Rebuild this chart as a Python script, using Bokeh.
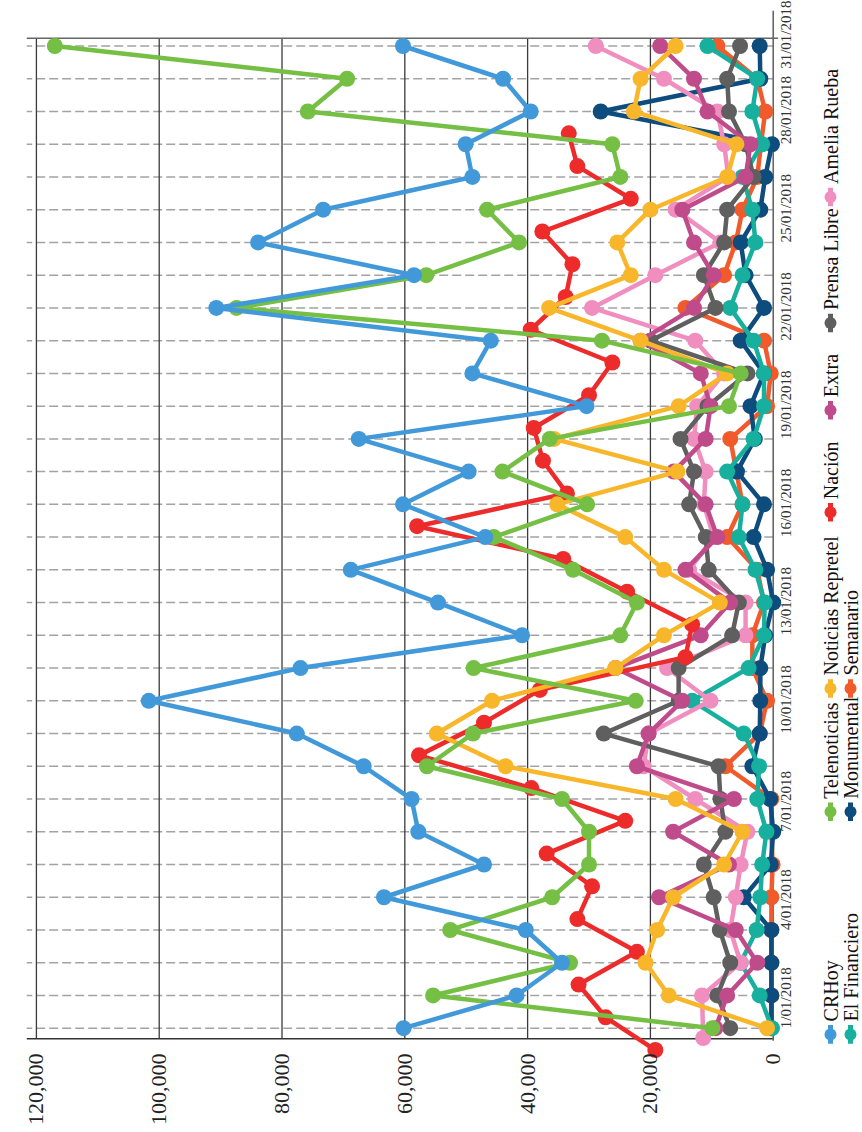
import math
from bokeh.plotting import figure
from bokeh.models import Range1d, FixedTicker, NumeralTickFormatter
from bokeh.layouts import row
from bokeh.embed import file_html
from bokeh.resources import INLINE
from bokeh.core.properties import value

# ---------------- data ----------------
day_numbers = list(range(1, 32))            # 1/01/2018 ... 31/01/2018
nacion_day_numbers = list(range(0, 29))     # 31/12/2017 ... 28/01/2018
nacion_hour = 8                             # Nación items stamped 08:00
amelia_day_numbers = [0.7] + list(range(2, 32))  # first item stamped 31/12/2017 late

crhoy = [60200, 41800, 34400, 40300, 63400, 47100, 57800, 58900, 66700, 77600, 101700,
         77000, 40900, 54600, 68800, 46900, 60300, 49600, 67500, 30400, 49000, 46000,
         90700, 58500, 83900, 73300, 49000, 50100, 39500, 44000, 60300]
telenoticias = [9900, 55400, 33100, 52600, 36000, 30000, 30000, 34400, 56400, 48900, 22400,
                48800, 24900, 22200, 32600, 45500, 30300, 44100, 36400, 7200, 5300, 27900,
                87400, 56500, 41400, 46600, 24900, 26200, 75800, 69400, 117000]
repretel = [1000, 17000, 20800, 18900, 16300, 8000, 5000, 15900, 43600, 54800, 45800,
            25700, 17800, 8700, 17800, 24100, 35200, 15600, 35700, 15400, 7500, 21600,
            36500, 23200, 25400, 20000, 7500, 6000, 22700, 21600, 15900]
nacion = [19200, 27300, 31700, 22200, 31900, 29500, 36900, 24100, 39400, 57700, 47100,
          38000, 14300, 13200, 23800, 34200, 58000, 33600, 37500, 39000, 30000, 26200,
          39500, 33800, 32700, 37600, 23200, 31900, 33300]
extra = [9400, 7500, 2600, 6100, 18600, 7200, 16300, 6400, 22200, 20300, 14800,
         25700, 11800, 7000, 14300, 9100, 11000, 16200, 11000, 10200, 11800, 21600,
         12900, 9700, 12900, 14800, 4500, 3700, 10700, 12900, 18400]
prensa_libre = [7000, 9100, 7000, 8700, 9700, 11300, 7800, 8600, 8900, 27600, 15400,
                15400, 6700, 5600, 10500, 11000, 13700, 12900, 15100, 10700, 4200, 20000,
                9400, 11300, 8000, 7500, 3200, 4500, 7200, 7500, 5400]
amelia_rueba = [11400, 11600, 5300, 7000, 6100, 5300, 4200, 12700, 21100, 20300, 10200,
                17300, 4500, 4500, 13700, 9700, 11300, 11000, 12900, 12400, 8000, 12700,
                29500, 19200, 8600, 15900, 7300, 8000, 9100, 17800, 28900]
el_financiero = [200, 2200, 5300, 2700, 2100, 1800, 1100, 2600, 2300, 4800, 13200,
                 4000, 1500, 1400, 2900, 5600, 5000, 7500, 3200, 1500, 1500, 3200,
                 7000, 5000, 2900, 3400, 5000, 1800, 3400, 2600, 10700]
monumental = [300, 300, 300, 300, 4800, 400, 0, 500, 3400, 2200, 2100,
              2100, 1300, 0, 1000, 3200, 1500, 5900, 3000, 3700, 1500, 5300,
              1500, 4500, 5300, 2100, 1300, 200, 28100, 2100, 2200]
semanario = [400, 300, 300, 300, 300, 100, 300, 300, 7800, 2200, 1000,
             3400, 3400, 1500, 2600, 7500, 5000, 6000, 7000, 1000, 400, 1500,
             14300, 8000, 6100, 5000, 2600, 2000, 1300, 2600, 9100]

series_names = ["CRHoy", "Telenoticias", "Noticias Repretel", "Nación", "Extra",
                "Prensa Libre", "Amelia Rueba", "El Financiero", "Monumental", "Semanario"]
series_colors = ["#4299d9", "#74bf44", "#f8b62b", "#ed2b2b", "#c04b8b",
                 "#5e5f5e", "#f08fbf", "#17b09e", "#0d4c7d", "#f15a2b"]

value_ticks = [0, 20000, 40000, 60000, 80000, 100000, 120000]
date_ticks = [1, 4, 7, 10, 13, 16, 19, 22, 25, 28, 31]
date_labels = ["1/01/2018", "4/01/2018", "7/01/2018", "10/01/2018", "13/01/2018",
               "16/01/2018", "19/01/2018", "22/01/2018", "25/01/2018", "28/01/2018",
               "31/01/2018"]

# ---------------- layout constants ----------------
FONT = "Liberation Serif"
PX_PER_DAY = 32.74
PX_PER_UNIT = 122.8 / 20000.0
FRAME_W, FRAME_H = 760, 1048
X_LEFT = 121615
X_RIGHT = X_LEFT - FRAME_W / PX_PER_UNIT
Y_BOTTOM = 0.0745
Y_TOP = Y_BOTTOM + FRAME_H / PX_PER_DAY
AXIS_BOTTOM_DAY = date_ticks[0] - 0.324
AXIS_TOP_DAY = date_ticks[-1] + 0.238
TOTAL_H = 1130

values_by_series = [crhoy, telenoticias, repretel, nacion, extra, prensa_libre,
                    amelia_rueba, el_financiero, monumental, semanario]
days_by_series = {"Nación": [d + nacion_hour / 24.0 for d in nacion_day_numbers],
                  "Amelia Rueba": amelia_day_numbers}

p = figure(frame_width=FRAME_W, frame_height=FRAME_H,
           x_range=Range1d(X_LEFT, X_RIGHT), y_range=Range1d(Y_BOTTOM, Y_TOP),
           output_backend="svg", toolbar_location=None,
           x_axis_location="below", y_axis_location="right",
           min_border_left=26, min_border_right=26, min_border_top=10,
           min_border_bottom=TOTAL_H - 10 - FRAME_H)
p.xgrid.visible = False
p.ygrid.visible = False
p.outline_line_color = None
p.background_fill_color = "white"
p.border_fill_color = "white"

# value axis (bottom)
xa = p.xaxis[0]
xa.ticker = FixedTicker(ticks=value_ticks)
xa.formatter = NumeralTickFormatter(format="0,0")
xa.major_label_orientation = math.pi / 2
xa.axis_line_color = None
xa.major_tick_line_color = None
xa.minor_tick_line_color = None
xa.major_tick_out = 0
xa.major_tick_in = 0
xa.major_label_standoff = -5
xa.major_label_text_font = FONT
xa.major_label_text_font_size = "22px"
xa.major_label_text_color = "#222222"

# date axis (right)
ya = p.yaxis[0]
ya.ticker = FixedTicker(ticks=date_ticks)
ya.major_label_overrides = {t: lab for t, lab in zip(date_ticks, date_labels)}
ya.major_label_orientation = math.pi / 2
ya.axis_line_color = None
ya.major_tick_line_color = None
ya.minor_tick_line_color = None
ya.major_tick_out = 0
ya.major_tick_in = 0
ya.major_label_standoff = 0
ya.major_label_text_font = FONT
ya.major_label_text_font_size = "15px"
ya.major_label_text_color = "#333333"

# grid: dashed day lines, solid value lines
p.segment(x0=[0] * len(day_numbers), y0=day_numbers, x1=[X_LEFT] * len(day_numbers), y1=day_numbers,
          line_color="#a3a3a3", line_width=1.5, line_dash="9 4")
gv = value_ticks[1:]
p.segment(x0=gv, y0=[AXIS_BOTTOM_DAY] * len(gv), x1=gv, y1=[AXIS_TOP_DAY] * len(gv),
          line_color="#3a3a3a", line_width=1.3)
# frame lines
p.segment(x0=[X_LEFT], y0=[AXIS_TOP_DAY], x1=[-800], y1=[AXIS_TOP_DAY], line_color="#666666", line_width=1.6)
p.segment(x0=[X_LEFT], y0=[AXIS_BOTTOM_DAY], x1=[0], y1=[AXIS_BOTTOM_DAY], line_color="#333333", line_width=1.6)
p.segment(x0=[0], y0=[AXIS_BOTTOM_DAY - 0.06], x1=[0], y1=[Y_TOP], line_color="#666666", line_width=1.6)

# series (drawn last-first so CRHoy ends on top)
for name, vals, col in reversed(list(zip(series_names, values_by_series, series_colors))):
    ys = days_by_series.get(name, day_numbers)
    p.line(x=vals, y=ys, line_color=col, line_width=4.5, line_join="round")
    p.scatter(x=vals, y=ys, size=16, fill_color=col, line_color=None)

# ---------------- legend (rotated, separate figure) ----------------
lg = figure(width=50, height=TOTAL_H, x_range=Range1d(812, 862), y_range=Range1d(TOTAL_H, 0),
            output_backend="svg", toolbar_location=None,
            x_axis_location=None, y_axis_location=None, min_border=0)
lg.xgrid.visible = False
lg.ygrid.visible = False
lg.outline_line_color = None

row_x = [830, 850]
slot_text_start = [1090, 850, 717, 527, 417, 323, 187]
for i, (name, col) in enumerate(zip(series_names, series_colors)):
    r = 0 if i < 7 else 1
    c = i if i < 7 else i - 7
    mx, ts = row_x[r], slot_text_start[c]
    my = ts + 14
    lg.segment(x0=[mx], y0=[my - 10], x1=[mx], y1=[my + 10], line_color=col, line_width=5)
    lg.scatter(x=[mx], y=[my], size=12, fill_color=col, line_color=None)
    lg.text(x=[mx], y=[ts], text=[name], angle=math.pi / 2,
            text_font=value(FONT), text_font_size="20px", text_color="#111111",
            text_align="left", text_baseline="middle")

layout = row(p, lg)
open("out.html", "w").write(file_html(layout, INLINE))
